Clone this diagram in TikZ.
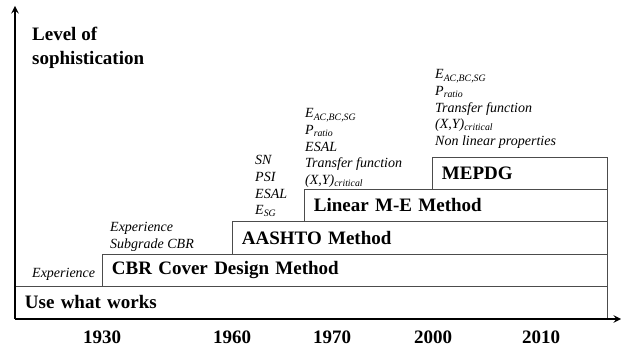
\documentclass[tikz,border=0pt]{standalone}
\usepackage{fontspec}
\setmainfont{Liberation Serif}
\setlength{\lineskiplimit}{-8pt}

\begin{document}
\begin{tikzpicture}[>=stealth, x=1pt, y=-1pt,
  stage/.style={draw=black!70, line width=0.8pt, anchor=south west,
    inner xsep=9.5pt, inner ysep=0pt, minimum height=32.5pt, align=left,
    font=\fontsize{19}{22}\selectfont\bfseries},
  note/.style={anchor=north west, inner sep=0pt, align=left,
    font=\fontsize{14}{16.6}\selectfont\itshape},
  year/.style={anchor=base, inner sep=0pt, font=\fontsize{19}{22}\selectfont\bfseries}]
  \useasboundingbox (0,0) rectangle (621,347);
  % stages of design methods
  \node[stage, text width=573pt] (works) at (15,319) {Use what works};
  \node[stage, text width=486pt] (cbr) at (102,287) {CBR Cover Design Method};
  \node[stage, text width=356pt] (aashto) at (232,254.5) {AASHTO Method};
  \node[stage, text width=284pt] (linme) at (304,222) {Linear M-E Method};
  \node[stage, text width=156pt] (mepdg) at (432,190) {MEPDG};
  % inputs of each method
  \node[note, anchor=base west] (inworks) at (32,278) {Experience};
  \node[note] (incbr) at (110,222.5) {Experience\\Subgrade CBR};
  \node[note] (inaashto) at (255,155.5) {SN\\PSI\\ESAL\\E\textsubscript{SG}};
  \node[note] (inlinme) at (305,108.5)
    {E\textsubscript{AC,BC,SG}\\P\textsubscript{ratio}\\ESAL\\Transfer function\\(X,Y)\textsubscript{critical}};
  \node[note] (inmepdg) at (435,69.5)
    {E\textsubscript{AC,BC,SG}\\P\textsubscript{ratio}\\Transfer function\\(X,Y)\textsubscript{critical}\\Non linear properties};
  % axes
  \coordinate (orig) at (15,319);
  \coordinate (ytip) at (15,6);
  \coordinate (xtip) at (621,319);
  \draw[->, line width=2.2pt] (orig) -- (ytip);
  \draw[->, line width=2.2pt] (orig) -- (xtip);
  \node[anchor=north west, inner sep=0pt, align=left,
    font=\fontsize{19}{24}\selectfont\bfseries] (ylabel) at (32,26.5)
    {Level of\\sophistication};
  \foreach \yr/\x in {1930/102, 1960/232, 1970/332, 2000/433, 2010/541}
    \node[year] (yr\yr) at (\x,343) {\yr};
\end{tikzpicture}
\end{document}
